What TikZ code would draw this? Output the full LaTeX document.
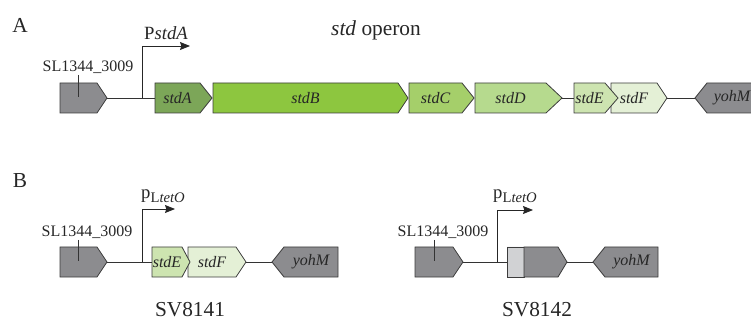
\documentclass[tikz,border=0pt]{standalone}
\usepackage{fontspec}
\setmainfont{Liberation Serif}
\usetikzlibrary{arrows.meta}

\definecolor{genegray}{RGB}{140,140,143}
\definecolor{stdAcol}{RGB}{124,166,88}
\definecolor{stdBcol}{RGB}{141,198,63}
\definecolor{stdCcol}{RGB}{165,207,106}
\definecolor{stdDcol}{RGB}{182,218,142}
\definecolor{stdEcol}{RGB}{205,228,176}
\definecolor{stdFcol}{RGB}{228,240,214}
\definecolor{tetgray}{RGB}{209,210,212}
\definecolor{edgegray}{RGB}{60,60,60}

\tikzset{
    genebox/.style={draw=edgegray, line width=0.6pt},
    genelabel/.style={font=\fontsize{12}{14}\selectfont\itshape, text=black!85, inner sep=0pt},
    backbone/.style={draw=black!80, line width=0.7pt},
    promoter/.style={draw=black!85, line width=0.7pt, -{Stealth[length=7.5pt, width=6pt, inset=1pt]}},
    taglabel/.style={font=\fontsize{12}{14}\selectfont, text=black!85, inner sep=1pt},
    promlabel/.style={font=\fontsize{14}{16}\selectfont, text=black!85, inner sep=0pt},
    panellabel/.style={font=\fontsize{16}{18}\selectfont, text=black!85, inner sep=0pt},
    strainlabel/.style={font=\fontsize{16}{18}\selectfont, text=black!85, inner sep=0pt}
}

% forward gene: name, x left, x right, y mid, tip length, fill, label
\newcommand{\genefwd}[7]{%
    \draw[genebox, fill=#6] (#2,#4-15) -- (#3-#5,#4-15) -- (#3,#4) -- (#3-#5,#4+15) -- (#2,#4+15) -- cycle;
    \coordinate (#1-w) at (#2,#4);
    \coordinate (#1-e) at (#3,#4);
    \node[genelabel] (#1) at ({(#2+#3-#5)/2},#4) {#7};
}
% reverse gene: name, x tip, x right, y mid, tip length, fill, label
\newcommand{\generev}[7]{%
    \draw[genebox, fill=#6] (#2,#4) -- (#2+#5,#4-15) -- (#3,#4-15) -- (#3,#4+15) -- (#2+#5,#4+15) -- cycle;
    \coordinate (#1-w) at (#2,#4);
    \coordinate (#1-e) at (#3,#4);
    \node[genelabel] (#1) at ({(#2+#5+#3)/2},#4) {#7};
}
% promoter name with a tetO subscript
\newcommand{\ptet}{p\raisebox{-0.45ex}{\fontsize{11}{12}\selectfont L\textit{tetO}}}

\begin{document}
\begin{tikzpicture}[x=0.75pt, y=-0.75pt]
    \useasboundingbox (0,0) rectangle (751,321);

    % Panel A: the std operon
    \node[panellabel] (labA) at (20,25) {A};
    \node[panellabel] (opA) at (376,30) {\textit{std} operon};
    \genefwd{aSL}{60}{107}{98}{10}{genegray}{}
    \node[taglabel] (aSLlab) at (88,67) {SL1344\_3009};
    \draw[backbone] (aSL |- aSLlab.south) -- (aSL);
    \genefwd{aStdA}{155}{212}{98}{12}{stdAcol}{stdA}
    \genefwd{aStdB}{213}{408}{98}{10}{stdBcol}{stdB}
    \genefwd{aStdC}{409}{474}{98}{12}{stdCcol}{stdC}
    \genefwd{aStdD}{475}{562}{98}{16}{stdDcol}{stdD}
    \genefwd{aStdF}{611}{667}{98}{10}{stdFcol}{stdF}
    \genefwd{aStdE}{574}{618}{98}{13}{stdEcol}{stdE}
    \generev{aYohM}{695}{757}{98}{12}{genegray}{yohM}
    \draw[backbone] (aSL-e) -- (aStdA-w);
    \draw[backbone] (aStdD-e) -- (aStdE-w);
    \draw[backbone] (aStdF-e) -- (aYohM-w);
    \coordinate (aP) at (142,98);
    \draw[promoter] (aP) -- ++(0,-52) -- ++(48,0);
    \node[promlabel] (aPlab) at (166,33) {P\textit{stdA}};

    % Panel B, left: SV8141
    \node[panellabel] (labB) at (20,181) {B};
    \genefwd{bSL}{60}{107}{262}{10}{genegray}{}
    \node[taglabel] (bSLlab) at (87,232) {SL1344\_3009};
    \draw[backbone] (bSL |- bSLlab.south) -- (bSL);
    \genefwd{bStdF}{188}{246}{262}{10}{stdFcol}{stdF}
    \genefwd{bStdE}{152}{190}{262}{8}{stdEcol}{stdE}
    \generev{bYohM}{272}{338}{262}{12}{genegray}{yohM}
    \draw[backbone] (bSL-e) -- (bStdE-w);
    \draw[backbone] (bStdF-e) -- (bYohM-w);
    \coordinate (bP) at (142,262);
    \draw[promoter] (bP) -- ++(0,-53) -- ++(33,0);
    \node[promlabel] (bPlab) at (163,196) {\ptet};
    \node[strainlabel] (bName) at (190,310) {SV8141};

    % Panel B, right: SV8142
    \begin{scope}[shift={(355,0)}]
        \genefwd{cSL}{60}{108}{262}{10}{genegray}{}
        \node[taglabel] (cSLlab) at (88,232) {SL1344\_3009};
        \draw[backbone] (cSL |- cSLlab.south) -- (cSL);
        \genefwd{cTet}{152}{169}{262}{0}{tetgray}{}
        \genefwd{cGene}{169}{212}{262}{9}{genegray}{}
        \generev{cYohM}{238}{303}{262}{12}{genegray}{yohM}
        \draw[backbone] (cSL-e) -- (cTet-w);
        \draw[backbone] (cGene-e) -- (cYohM-w);
        \coordinate (cP) at (142,262);
        \draw[promoter] (cP) -- ++(0,-52) -- ++(36,0);
        \node[promlabel] (cPlab) at (160,196) {\ptet};
        \node[strainlabel] (cName) at (182,310) {SV8142};
    \end{scope}
\end{tikzpicture}
\end{document}
